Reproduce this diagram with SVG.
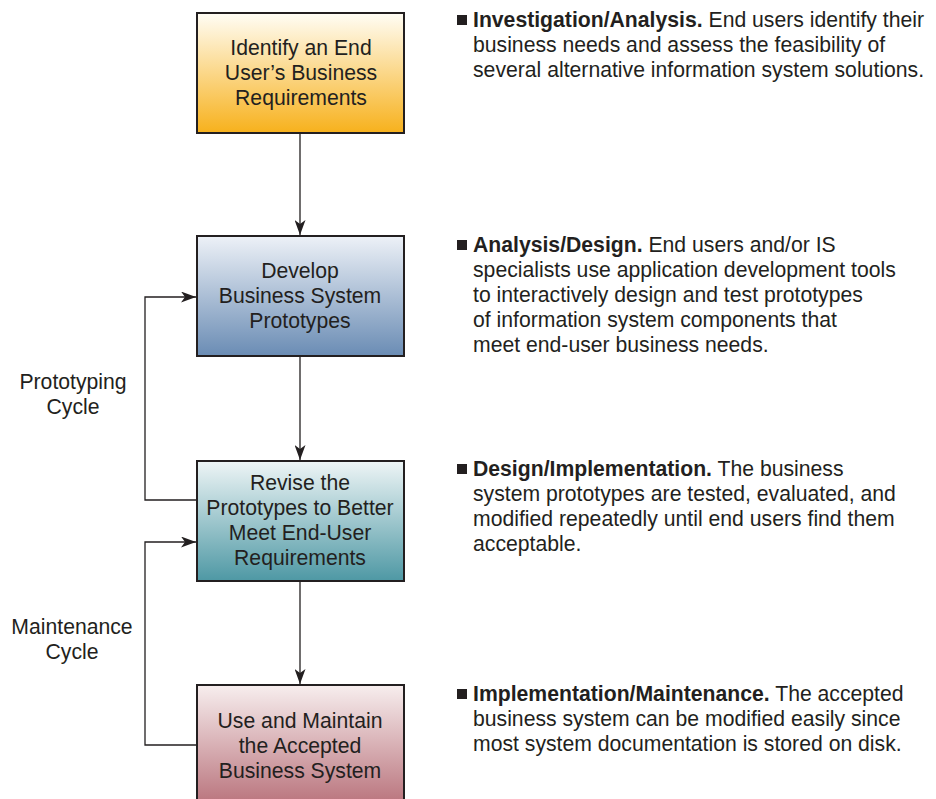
<svg xmlns="http://www.w3.org/2000/svg" width="936" height="799" viewBox="0 0 936 799">
<style>
.t{font-family:"Liberation Sans",Arial,sans-serif;font-size:21.2px;fill:#231f20}
.c{text-anchor:middle}
.b{font-weight:bold}
.box{stroke:#231f20;stroke-width:2}
.ln{stroke:#231f20;stroke-width:1.3;fill:none}
</style>
<defs>
<linearGradient id="g1" x1="0" y1="0" x2="0" y2="1"><stop offset="0" stop-color="#fffdf5"/><stop offset="1" stop-color="#f7b11c"/></linearGradient>
<linearGradient id="g2" x1="0" y1="0" x2="0" y2="1"><stop offset="0" stop-color="#edf1f7"/><stop offset="1" stop-color="#6a8cb4"/></linearGradient>
<linearGradient id="g3" x1="0" y1="0" x2="0" y2="1"><stop offset="0" stop-color="#eef5f6"/><stop offset="1" stop-color="#4e98a4"/></linearGradient>
<linearGradient id="g4" x1="0" y1="0" x2="0" y2="1"><stop offset="0" stop-color="#f7eeee"/><stop offset="1" stop-color="#b9737c"/></linearGradient>
<marker id="ar" viewBox="0 0 15 11" refX="15" refY="5.5" markerWidth="15" markerHeight="11" markerUnits="userSpaceOnUse" orient="auto"><path d="M0,0 L15,5.5 L0,11 L4,5.5 Z" fill="#231f20"/></marker>
</defs>
<g id="connectors">
<line class="ln" x1="300" y1="133" x2="300" y2="235" marker-end="url(#ar)"/>
<line class="ln" x1="300" y1="356" x2="300" y2="460" marker-end="url(#ar)"/>
<line class="ln" x1="300" y1="581" x2="300" y2="684" marker-end="url(#ar)"/>
<polyline class="ln" points="197,500 145,500 145,297 196,297" marker-end="url(#ar)"/>
<polyline class="ln" points="197,745 145,745 145,542 196,542" marker-end="url(#ar)"/>
</g>
<g id="node1">
<rect class="box" x="197" y="13" width="207" height="120" fill="url(#g1)"/>
<text class="t c" x="301" y="55">Identify an End</text>
<text class="t c" x="301" y="80">User’s Business</text>
<text class="t c" x="301" y="105">Requirements</text>
</g>
<g id="node2">
<rect class="box" x="197" y="236" width="207" height="120" fill="url(#g2)"/>
<text class="t c" x="300" y="278">Develop</text>
<text class="t c" x="300" y="303">Business System</text>
<text class="t c" x="300" y="328">Prototypes</text>
</g>
<g id="node3">
<rect class="box" x="197" y="461" width="207" height="120" fill="url(#g3)"/>
<text class="t c" x="300" y="490">Revise the</text>
<text class="t c" x="300" y="515">Prototypes to Better</text>
<text class="t c" x="300" y="540">Meet End-User</text>
<text class="t c" x="300" y="565">Requirements</text>
</g>
<g id="node4">
<rect class="box" x="197" y="685" width="207" height="120" fill="url(#g4)"/>
<text class="t c" x="300" y="728">Use and Maintain</text>
<text class="t c" x="300" y="753">the Accepted</text>
<text class="t c" x="300" y="778">Business System</text>
</g>
<g id="label-prototyping">
<text class="t c" x="73" y="389">Prototyping</text>
<text class="t c" x="73" y="414">Cycle</text>
</g>
<g id="label-maintenance">
<text class="t c" x="72" y="634">Maintenance</text>
<text class="t c" x="72" y="659">Cycle</text>
</g>
<g id="desc1">
<rect x="457" y="15" width="10" height="10" fill="#231f20"/>
<text class="t" x="473" y="27"><tspan class="b">Investigation/Analysis.</tspan> End users identify their</text>
<text class="t" x="473" y="52">business needs and assess the feasibility of</text>
<text class="t" x="473" y="77">several alternative information system solutions.</text>
</g>
<g id="desc2">
<rect x="457" y="240" width="10" height="10" fill="#231f20"/>
<text class="t" x="473" y="252"><tspan class="b">Analysis/Design.</tspan> End users and/or IS</text>
<text class="t" x="473" y="277">specialists use application development tools</text>
<text class="t" x="473" y="302">to interactively design and test prototypes</text>
<text class="t" x="473" y="327">of information system components that</text>
<text class="t" x="473" y="352">meet end-user business needs.</text>
</g>
<g id="desc3">
<rect x="457" y="464" width="10" height="10" fill="#231f20"/>
<text class="t" x="473" y="476"><tspan class="b">Design/Implementation.</tspan> The business</text>
<text class="t" x="473" y="501">system prototypes are tested, evaluated, and</text>
<text class="t" x="473" y="526">modified repeatedly until end users find them</text>
<text class="t" x="473" y="551">acceptable.</text>
</g>
<g id="desc4">
<rect x="457" y="689" width="10" height="10" fill="#231f20"/>
<text class="t" x="473" y="701"><tspan class="b">Implementation/Maintenance.</tspan> The accepted</text>
<text class="t" x="473" y="726">business system can be modified easily since</text>
<text class="t" x="473" y="751">most system documentation is stored on disk.</text>
</g>
</svg>
